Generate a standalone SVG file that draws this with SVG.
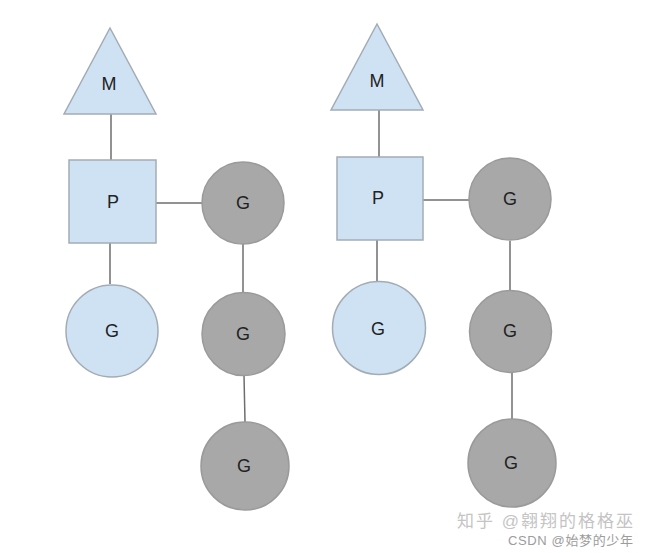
<svg xmlns="http://www.w3.org/2000/svg" width="650" height="553" viewBox="0 0 650 553">
<style>
.lb{fill:#cfe2f3;stroke:#a3acb5;stroke-width:1.5}
.gr{fill:#a8a8a8;stroke:#9a9a9a;stroke-width:1.5}
.ln{stroke:#6e6e6e;stroke-width:1.5;fill:none}
.t{font-family:"Liberation Sans",Arial,sans-serif;font-size:18px;fill:#222;text-anchor:middle;dominant-baseline:central}
.wm{font-family:"Liberation Sans","Noto Sans CJK SC",sans-serif}
</style>
<rect width="650" height="553" fill="#ffffff"/>
<g id="connectors">
<line class="ln" x1="111" y1="114" x2="111" y2="160"/>
<line class="ln" x1="156" y1="203" x2="203" y2="203"/>
<line class="ln" x1="110" y1="243" x2="110" y2="284"/>
<line class="ln" x1="243" y1="244" x2="243" y2="293"/>
<line class="ln" x1="244" y1="375" x2="245" y2="422"/>
<line class="ln" x1="379" y1="110" x2="379" y2="157"/>
<line class="ln" x1="423" y1="200" x2="470" y2="200"/>
<line class="ln" x1="377" y1="240" x2="377" y2="281"/>
<line class="ln" x1="510" y1="241" x2="510" y2="291"/>
<line class="ln" x1="512" y1="372" x2="512" y2="420"/>
</g>
<g id="m1"><polygon class="lb" points="110,28 156,114 64,114"/><text class="t" x="109" y="84">M</text></g>
<g id="p1"><rect class="lb" x="69" y="160" width="87" height="83"/><text class="t" x="113" y="202">P</text></g>
<g id="g1a"><circle class="gr" cx="243" cy="203" r="41"/><text class="t" x="243" y="203">G</text></g>
<g id="g1b"><circle class="lb" cx="112" cy="331" r="46"/><text class="t" x="112" y="331">G</text></g>
<g id="g1c"><circle class="gr" cx="243.5" cy="334" r="41.5"/><text class="t" x="243" y="334">G</text></g>
<g id="g1d"><circle class="gr" cx="245" cy="466" r="44"/><text class="t" x="244" y="466">G</text></g>
<g id="m2"><polygon class="lb" points="377,24 423,110 331,110"/><text class="t" x="377" y="81">M</text></g>
<g id="p2"><rect class="lb" x="337" y="157" width="86" height="83"/><text class="t" x="378" y="198">P</text></g>
<g id="g2a"><circle class="gr" cx="510" cy="199" r="41"/><text class="t" x="510" y="199">G</text></g>
<g id="g2b"><circle class="lb" cx="379" cy="328" r="46.5"/><text class="t" x="378" y="329">G</text></g>
<g id="g2c"><circle class="gr" cx="510.5" cy="331.5" r="41"/><text class="t" x="510" y="331">G</text></g>
<g id="g2d"><circle class="gr" cx="512" cy="463" r="44"/><text class="t" x="511" y="463">G</text></g>
<g id="watermark">
<text class="wm" x="457" y="527" font-size="17" fill="#c4c4c4" textLength="176" lengthAdjust="spacing">知乎 @翱翔的格格巫</text>
<text class="wm" x="508" y="545" font-size="13" fill="#9c9c9c" textLength="125" lengthAdjust="spacing">CSDN @始梦的少年</text>
</g>
</svg>
